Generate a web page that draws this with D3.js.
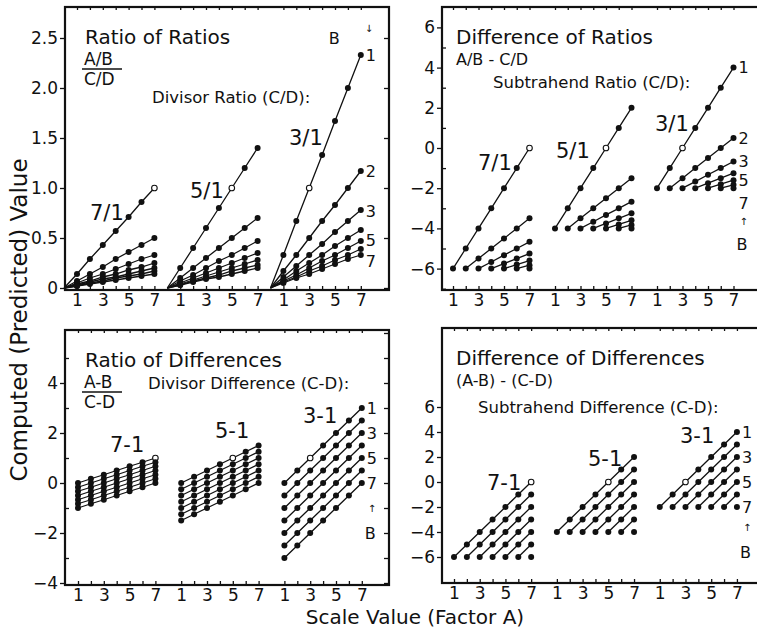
<!DOCTYPE html>
<meta charset="utf-8">
<style>
body { margin: 0; background: #fff; }
svg { display: block; font-family: "DejaVu Sans", sans-serif; fill: #111; }
.frame { fill: none; stroke: #111; stroke-width: 2.2px; }
.axis path { display: none; }
.axis line { stroke: #111; stroke-width: 1.3px; }
.axis text { font-family: "DejaVu Sans", sans-serif; font-size: 17px; fill: #111; }
.curve { fill: none; stroke: #111; stroke-width: 1.3px; }
.dot { fill: #111; }
.open { fill: #fff; stroke: #111; stroke-width: 1.1px; }
.title { font-size: 20px; }
.formula { font-size: 16px; }
.frac { font-size: 17px; }
.sub { font-size: 16.5px; }
.group { font-size: 21px; }
.blab { font-size: 16px; }
.arrow { font-size: 10px; }
.axtitle { font-size: 20px; }
.ytitle { font-size: 23px; }
</style>
<svg width="757" height="630"></svg>
<script src="https://d3js.org/d3.v7.min.js"></script>
<script>

// scale values of factor A (x within each group) and factor B (one line each)
var aValues = [1, 2, 3, 4, 5, 6, 7];
var bValues = [1, 2, 3, 4, 5, 6, 7];
var xTickLabels = [1, 3, 5, 7];
var openA = [7, 5, 3];   // the A value where the B=1 line hits the "unit" point (open circle)

// ---- Ratio of Ratios  (A/B)/(C/D)
var ratioGroups = ["7/1", "5/1", "3/1"];
var ratioOfRatios = [
  [[0.14,0.29,0.43,0.57,0.71,0.86,1.00],
   [0.07,0.14,0.21,0.29,0.36,0.43,0.50],
   [0.05,0.10,0.14,0.19,0.24,0.29,0.33],
   [0.04,0.07,0.11,0.14,0.18,0.21,0.25],
   [0.03,0.06,0.09,0.11,0.14,0.17,0.20],
   [0.02,0.05,0.07,0.10,0.12,0.14,0.17],
   [0.02,0.04,0.06,0.08,0.10,0.12,0.14]],
  [[0.20,0.40,0.60,0.80,1.00,1.20,1.40],
   [0.10,0.20,0.30,0.40,0.50,0.60,0.70],
   [0.07,0.13,0.20,0.27,0.33,0.40,0.47],
   [0.05,0.10,0.15,0.20,0.25,0.30,0.35],
   [0.04,0.08,0.12,0.16,0.20,0.24,0.28],
   [0.03,0.07,0.10,0.13,0.17,0.20,0.23],
   [0.03,0.06,0.09,0.11,0.14,0.17,0.20]],
  [[0.33,0.67,1.00,1.33,1.67,2.00,2.33],
   [0.17,0.33,0.50,0.67,0.83,1.00,1.17],
   [0.11,0.22,0.33,0.44,0.56,0.67,0.78],
   [0.08,0.17,0.25,0.33,0.42,0.50,0.58],
   [0.07,0.13,0.20,0.27,0.33,0.40,0.47],
   [0.06,0.11,0.17,0.22,0.28,0.33,0.39],
   [0.05,0.10,0.14,0.19,0.24,0.29,0.33]]
];
var ratioTicks = [0, 0.5, 1, 1.5, 2, 2.5];

// ---- Difference of Ratios  A/B - C/D   (only A >= B plotted)
var diffRatios = [
  [[-6,-5,-4,-3,-2,-1,0],
   [null,-6,-5.5,-5,-4.5,-4,-3.5],
   [null,null,-6,-5.67,-5.33,-5,-4.67],
   [null,null,null,-6,-5.75,-5.5,-5.25],
   [null,null,null,null,-6,-5.8,-5.6],
   [null,null,null,null,null,-6,-5.83],
   [null,null,null,null,null,null,-6]],
  [[-4,-3,-2,-1,0,1,2],
   [null,-4,-3.5,-3,-2.5,-2,-1.5],
   [null,null,-4,-3.67,-3.33,-3,-2.67],
   [null,null,null,-4,-3.75,-3.5,-3.25],
   [null,null,null,null,-4,-3.8,-3.6],
   [null,null,null,null,null,-4,-3.83],
   [null,null,null,null,null,null,-4]],
  [[-2,-1,0,1,2,3,4],
   [null,-2,-1.5,-1,-0.5,0,0.5],
   [null,null,-2,-1.67,-1.33,-1,-0.67],
   [null,null,null,-2,-1.75,-1.5,-1.25],
   [null,null,null,null,-2,-1.8,-1.6],
   [null,null,null,null,null,-2,-1.83],
   [null,null,null,null,null,null,-2]]
];
var diffRatioTicks = [-6, -4, -2, 0, 2, 4, 6];

// ---- Ratio of Differences  (A-B)/(C-D)
var diffGroups = ["7-1", "5-1", "3-1"];
var ratioDiffs = [
  [[0,0.17,0.33,0.5,0.67,0.83,1],
   [-0.17,0,0.17,0.33,0.5,0.67,0.83],
   [-0.33,-0.17,0,0.17,0.33,0.5,0.67],
   [-0.5,-0.33,-0.17,0,0.17,0.33,0.5],
   [-0.67,-0.5,-0.33,-0.17,0,0.17,0.33],
   [-0.83,-0.67,-0.5,-0.33,-0.17,0,0.17],
   [-1,-0.83,-0.67,-0.5,-0.33,-0.17,0]],
  [[0,0.25,0.5,0.75,1,1.25,1.5],
   [-0.25,0,0.25,0.5,0.75,1,1.25],
   [-0.5,-0.25,0,0.25,0.5,0.75,1],
   [-0.75,-0.5,-0.25,0,0.25,0.5,0.75],
   [-1,-0.75,-0.5,-0.25,0,0.25,0.5],
   [-1.25,-1,-0.75,-0.5,-0.25,0,0.25],
   [-1.5,-1.25,-1,-0.75,-0.5,-0.25,0]],
  [[0,0.5,1,1.5,2,2.5,3],
   [-0.5,0,0.5,1,1.5,2,2.5],
   [-1,-0.5,0,0.5,1,1.5,2],
   [-1.5,-1,-0.5,0,0.5,1,1.5],
   [-2,-1.5,-1,-0.5,0,0.5,1],
   [-2.5,-2,-1.5,-1,-0.5,0,0.5],
   [-3,-2.5,-2,-1.5,-1,-0.5,0]]
];
var ratioDiffTicks = [-4, -2, 0, 2, 4];

// ---- Difference of Differences  (A-B)-(C-D)   (only A >= B plotted)
var diffDiffs = [
  [[-6,-5,-4,-3,-2,-1,0],
   [null,-6,-5,-4,-3,-2,-1],
   [null,null,-6,-5,-4,-3,-2],
   [null,null,null,-6,-5,-4,-3],
   [null,null,null,null,-6,-5,-4],
   [null,null,null,null,null,-6,-5],
   [null,null,null,null,null,null,-6]],
  [[-4,-3,-2,-1,0,1,2],
   [null,-4,-3,-2,-1,0,1],
   [null,null,-4,-3,-2,-1,0],
   [null,null,null,-4,-3,-2,-1],
   [null,null,null,null,-4,-3,-2],
   [null,null,null,null,null,-4,-3],
   [null,null,null,null,null,null,-4]],
  [[-2,-1,0,1,2,3,4],
   [null,-2,-1,0,1,2,3],
   [null,null,-2,-1,0,1,2],
   [null,null,null,-2,-1,0,1],
   [null,null,null,null,-2,-1,0],
   [null,null,null,null,null,-2,-1],
   [null,null,null,null,null,null,-2]]
];
var diffDiffTicks = [-6, -4, -2, 0, 2, 4, 6];

var groupOffset = 8;   // x units between the groups of a panel

var svg = d3.select("svg");

var panels = [
  { box: [65, 7, 389, 290], x0: 77, unit: 12.9, y0: 288, yUnit: 100,
    data: ratioOfRatios, groups: ratioGroups, fromOrigin: true,
    yTicks: ratioTicks, yFmt: function(d) { return d === 0 ? "0" : d.toFixed(1); },
    rightTicks: ratioTicks, minorTicks: [],
    title: "Ratio of Ratios", frac: ["A/B", "C/D"], sub: "Divisor Ratio (C/D):", subX: 152, subY: 103,
    groupPos: [[90, 220], [190, 198], [289, 145]],
    bLabels: [["1", 2.33], ["2", 1.17], ["3", 0.77], ["5", 0.48], ["7", 0.27]],
    bTop: true },
  { box: [442, 7, 780, 290], x0: 453, unit: 12.75, y0: 148, yUnit: 20.1,
    data: diffRatios, groups: ratioGroups,
    yTicks: diffRatioTicks, yFmt: d3.format("d"),
    rightTicks: d3.range(-7, 7), minorTicks: [-7, -5, -3, -1, 1, 3, 5],
    title: "Difference of Ratios", formula: "A/B - C/D", sub: "Subtrahend Ratio (C/D):", subX: 493, subY: 88,
    groupPos: [[478, 170], [556, 158], [655, 131]],
    bLabels: [["1", 4], ["2", 0.5], ["3", -0.67], ["5", -1.6], ["7", -2.75]],
    arrowV: -3.65, bV: -4.8 },
  { box: [65, 330, 389, 585], x0: 78, unit: 12.9, y0: 483, yUnit: 25,
    data: ratioDiffs, groups: diffGroups,
    yTicks: ratioDiffTicks, yFmt: d3.format("d"),
    rightTicks: d3.range(-4, 7), minorTicks: [-3, -1, 1, 3, 5],
    title: "Ratio of Differences", frac: ["A-B", "C-D"], sub: "Divisor Difference (C-D):", subX: 148, subY: 389,
    groupPos: [[110, 452], [215, 438], [303, 423]],
    bLabels: [["1", 3], ["3", 2], ["5", 1], ["7", 0]],
    arrowV: -1, bV: -2 },
  { box: [442, 328, 780, 583], x0: 454, unit: 12.86, y0: 482, yUnit: 12.5,
    data: diffDiffs, groups: diffGroups,
    yTicks: diffDiffTicks, yFmt: d3.format("d"),
    rightTicks: d3.range(-6, 12, 2), minorTicks: [],
    title: "Difference of Differences", formula: "(A-B) - (C-D)", sub: "Subtrahend Difference (C-D):", subX: 478, subY: 413,
    groupPos: [[487, 490], [588, 466], [680, 443]],
    bLabels: [["1", 4], ["3", 2], ["5", 0], ["7", -2]],
    arrowV: -3.6, bV: -5.6 }
];

panels.forEach(drawPanel);

function drawPanel(p) {
  var left = p.box[0], top = p.box[1], right = p.box[2], bottom = p.box[3];

  var x = d3.scaleLinear()
    .domain([1 - (p.x0 - left) / p.unit, 1 + (right - p.x0) / p.unit])
    .range([left, right]);
  var y = d3.scaleLinear()
    .domain([(p.y0 - bottom) / p.yUnit, (p.y0 - top) / p.yUnit])
    .range([bottom, top]);

  var g = svg.append("g");

  // x positions: every A of every group
  var allU = [], labelU = [];
  p.groups.forEach(function(name, gi) {
    aValues.forEach(function(a) { allU.push(gi * groupOffset + a); });
    xTickLabels.forEach(function(a) { labelU.push(gi * groupOffset + a); });
  });

  // left axis with labels (outward ticks)
  g.append("g").attr("class", "axis")
    .attr("transform", "translate(" + left + ",0)")
    .call(d3.axisLeft(y).tickValues(p.yTicks).tickSize(5).tickPadding(2).tickFormat(p.yFmt));
  // inward minor ticks on the left
  g.append("g").attr("class", "axis")
    .attr("transform", "translate(" + left + ",0)")
    .call(d3.axisRight(y).tickValues(p.minorTicks).tickSize(4).tickFormat(""));
  // inward ticks on the right
  g.append("g").attr("class", "axis")
    .attr("transform", "translate(" + right + ",0)")
    .call(d3.axisLeft(y).tickValues(p.rightTicks).tickSize(5).tickFormat(""));
  // bottom labels
  g.append("g").attr("class", "axis")
    .attr("transform", "translate(0," + bottom + ")")
    .call(d3.axisBottom(x).tickValues(labelU).tickSize(0).tickPadding(4)
      .tickFormat(function(u) { return ((u - 1) % groupOffset) + 1; }));
  // inward ticks at bottom and top
  g.append("g").attr("class", "axis")
    .attr("transform", "translate(0," + bottom + ")")
    .call(d3.axisTop(x).tickValues(allU).tickSize(4).tickFormat(""));
  g.append("g").attr("class", "axis")
    .attr("transform", "translate(0," + top + ")")
    .call(d3.axisBottom(x).tickValues(allU).tickSize(3).tickFormat(""));

  g.append("rect").attr("class", "frame")
    .attr("x", left).attr("y", top)
    .attr("width", right - left).attr("height", bottom - top);

  var line = d3.line()
    .defined(function(d) { return d.v != null; })
    .x(function(d) { return x(d.u); })
    .y(function(d) { return y(d.v); });

  p.data.forEach(function(group, gi) {
    group.forEach(function(vals, bi) {
      var pts = vals.map(function(v, ai) {
        return { u: gi * groupOffset + aValues[ai], v: v, a: aValues[ai], b: bValues[bi] };
      });
      var pathPts = pts.filter(function(d) { return d.v != null; });
      if (p.fromOrigin) pathPts = [{ u: gi * groupOffset, v: 0 }].concat(pathPts);
      g.append("path").attr("class", "curve").attr("d", line(pathPts));

      pts.filter(function(d) { return d.v != null; }).forEach(function(d) {
        var isOpen = d.b === 1 && d.a === openA[gi];
        g.append("circle")
          .attr("class", isOpen ? "open" : "dot")
          .attr("cx", x(d.u)).attr("cy", y(d.v))
          .attr("r", isOpen ? 2.8 : 3);
      });
    });
  });

  // annotations
  var tx = left + (p.frac ? 20 : 14);
  g.append("text").attr("class", "title").attr("x", tx).attr("y", top + 37).text(p.title);
  if (p.frac) {
    g.append("text").attr("class", "frac").attr("x", tx - 1).attr("y", top + 58).text(p.frac[0]);
    g.append("line").attr("x1", tx - 3).attr("x2", tx + 37)
      .attr("y1", top + 62).attr("y2", top + 62).attr("stroke", "#111").attr("stroke-width", 1.6);
    g.append("text").attr("class", "frac").attr("x", tx - 1).attr("y", top + 78).text(p.frac[1]);
  } else {
    g.append("text").attr("class", "formula").attr("x", tx).attr("y", top + 58).text(p.formula);
  }
  g.append("text").attr("class", "sub").attr("x", p.subX).attr("y", p.subY).text(p.sub);

  p.groups.forEach(function(name, gi) {
    g.append("text").attr("class", "group")
      .attr("x", p.groupPos[gi][0]).attr("y", p.groupPos[gi][1]).text(name);
  });

  var lastX = x((p.groups.length - 1) * groupOffset + 7);
  p.bLabels.forEach(function(d) {
    g.append("text").attr("class", "blab")
      .attr("x", lastX + 5).attr("y", y(d[1])).attr("dy", "0.35em").text(d[0]);
  });
  if (p.bTop) {
    g.append("text").attr("class", "blab").attr("x", lastX - 32).attr("y", y(2.5)).attr("dy", "0.35em").text("B");
    g.append("text").attr("class", "arrow").attr("x", lastX + 4).attr("y", y(2.6)).attr("dy", "0.35em").text("↓");
  } else {
    g.append("text").attr("class", "arrow").attr("x", lastX + 6).attr("y", y(p.arrowV)).attr("dy", "0.35em").text("↑");
    g.append("text").attr("class", "blab").attr("x", lastX + 3).attr("y", y(p.bV)).attr("dy", "0.35em").text("B");
  }
}

// axis titles
svg.append("text").attr("class", "ytitle")
  .attr("transform", "translate(27,320) rotate(-90)")
  .attr("text-anchor", "middle")
  .text("Computed (Predicted) Value");
svg.append("text").attr("class", "axtitle")
  .attr("x", 415).attr("y", 624)
  .attr("text-anchor", "middle")
  .text("Scale Value (Factor A)");

</script>
